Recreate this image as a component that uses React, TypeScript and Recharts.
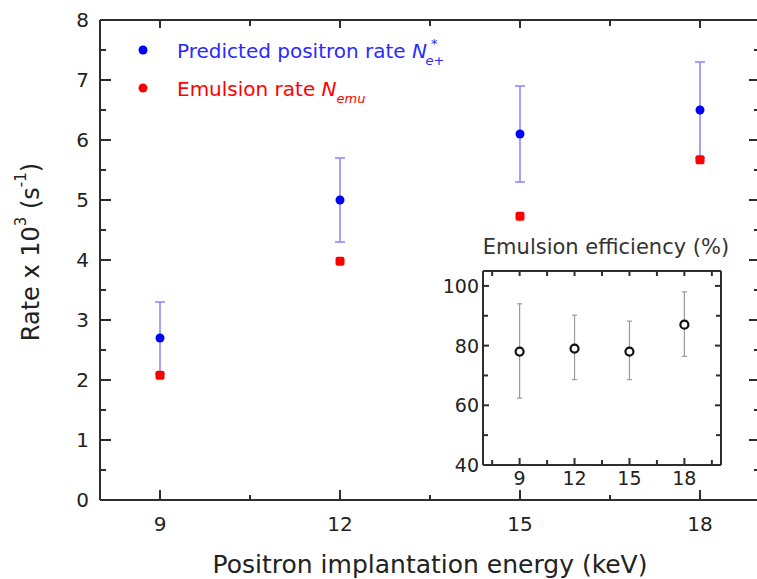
import React from "react";
import { ScatterChart, Scatter, XAxis, YAxis, ErrorBar } from "recharts";

// main panel
const energies = [9, 12, 15, 18];
const predictedRate = [2.7, 5.0, 6.1, 6.5];
const predictedErr = [0.6, 0.7, 0.8, 0.8];
const emulsionRate = [2.08, 3.98, 4.73, 5.67];

// inset panel
const efficiency = [78, 79, 78, 87];
const efficiencyLow = [62.4, 68.6, 68.6, 76.4];
const efficiencyHigh = [94, 90.2, 88.2, 98];

const mainXTicks = [9, 10.5, 12, 13.5, 15, 16.5, 18];
const mainXLabels = [9, 12, 15, 18];
const mainYTicks = [0, 0.5, 1, 1.5, 2, 2.5, 3, 3.5, 4, 4.5, 5, 5.5, 6, 6.5, 7, 7.5, 8];
const mainYLabels = [0, 1, 2, 3, 4, 5, 6, 7, 8];
const insetXTicks = [7.5, 9, 10.5, 12, 13.5, 15, 16.5, 18, 19.5];
const insetXLabels = [9, 12, 15, 18];
const insetYTicks = [40, 50, 60, 70, 80, 90, 100];
const insetYLabels = [40, 60, 80, 100];

const mainXDomain = [8, 19];
const mainYDomain = [0, 8];
const insetXDomain = [7, 20];
const insetYDomain = [40, 105];

const FONT = "DejaVu Sans, Arial, sans-serif";
const BLUE = "#0000ff";
const RED = "#ff0000";
const AXIS = "#2e2e2e";

const predictedData = energies.map((e, i) => ({
  energy: e,
  rate: predictedRate[i],
  err: predictedErr[i],
}));
const emulsionData = energies.map((e, i) => ({ energy: e, rate: emulsionRate[i] }));
const efficiencyData = energies.map((e, i) => ({
  energy: e,
  eff: efficiency[i],
  err: [efficiency[i] - efficiencyLow[i], efficiencyHigh[i] - efficiency[i]],
}));

// frame tick marks, placed through the chart scales as tiny series
const mainBottomMarks = mainXTicks.map((v) => ({ energy: v, rate: mainYDomain[0], major: mainXLabels.includes(v) }));
const mainTopMarks = mainXTicks.map((v) => ({ energy: v, rate: mainYDomain[1], major: mainXLabels.includes(v) }));
const mainLeftMarks = mainYTicks.map((v) => ({ energy: mainXDomain[0], rate: v, major: mainYLabels.includes(v) }));
const mainRightMarks = mainYTicks.map((v) => ({ energy: mainXDomain[1], rate: v, major: mainYLabels.includes(v) }));
const insetBottomMarks = insetXTicks.map((v) => ({ energy: v, eff: insetYDomain[0], major: insetXLabels.includes(v) }));
const insetTopMarks = insetXTicks.map((v) => ({ energy: v, eff: insetYDomain[1], major: insetXLabels.includes(v) }));
const insetLeftMarks = insetYTicks.map((v) => ({ energy: insetXDomain[0], eff: v, major: insetYLabels.includes(v) }));
const insetRightMarks = insetYTicks.map((v) => ({ energy: insetXDomain[1], eff: v, major: insetYLabels.includes(v) }));

const tickMark = (dx: number, dy: number, major: number, minor: number) => (props: any) => {
  const isMajor = props.payload ? props.payload.major : props.major;
  const len = isMajor ? major : minor;
  return (
    <line
      x1={props.cx}
      y1={props.cy}
      x2={props.cx + dx * len}
      y2={props.cy + dy * len}
      stroke={AXIS}
      strokeWidth={2}
    />
  );
};

const mainBottomShape = tickMark(0, -1, 10, 5);
const mainTopShape = tickMark(0, 1, 8, 6);
const mainLeftShape = tickMark(1, 0, 11, 6);
const mainRightShape = tickMark(-1, 0, 11, 6);
const insetBottomShape = tickMark(0, -1, 7, 5);
const insetTopShape = tickMark(0, 1, 5, 5);
const insetLeftShape = tickMark(1, 0, 6, 5);
const insetRightShape = tickMark(-1, 0, 6, 5);

// tick labels only (x/y sit on the axis line since tickSize and tickMargin are 0)
const bottomLabel = (labels: number[], fontSize: number, gap: number) => (props: any) => {
  const v = props.payload.value;
  if (!labels.includes(v)) return <g />;
  return (
    <text x={props.x} y={props.y + gap} textAnchor="middle" fontSize={fontSize} fontFamily={FONT} fill="#222">
      {v}
    </text>
  );
};
const leftLabel = (labels: number[], fontSize: number, gap: number) => (props: any) => {
  const v = props.payload.value;
  if (!labels.includes(v)) return <g />;
  return (
    <text x={props.x - gap} y={props.y} textAnchor="end" dominantBaseline="central" fontSize={fontSize} fontFamily={FONT} fill="#222">
      {v}
    </text>
  );
};

const mainBottomLabel = bottomLabel(mainXLabels, 20, 31);
const mainLeftLabel = leftLabel(mainYLabels, 20, 11);
const insetBottomLabel = bottomLabel(insetXLabels, 19, 20);
const insetLeftLabel = leftLabel(insetYLabels, 19, 4);

const renderYLabel = (props: any) => {
  const { viewBox } = props;
  const cx = 31;
  const cy = viewBox.y + viewBox.height / 2 - 8;
  return (
    <text
      x={cx}
      y={cy}
      transform={`rotate(-90 ${cx} ${cy})`}
      textAnchor="middle"
      dominantBaseline="central"
      fontSize={24}
      fontFamily={FONT}
      fill="#222"
    >
      Rate x 10
      <tspan fontSize={15} dy={-10}>3</tspan>
      <tspan dy={10}> (s</tspan>
      <tspan fontSize={15} dy={-10}>-1</tspan>
      <tspan dy={10}>)</tspan>
    </text>
  );
};

const renderXLabel = (props: any) => {
  const { viewBox } = props;
  return (
    <text x={viewBox.x + viewBox.width / 2} y={viewBox.y + 73} textAnchor="middle" fontSize={25} fontFamily={FONT} fill="#222">
      Positron implantation energy (keV)
    </text>
  );
};

const renderInsetTitle = (props: any) => {
  const { viewBox } = props;
  return (
    <text x={viewBox.x + viewBox.width / 2 + 4} y={viewBox.y - 16} textAnchor="middle" fontSize={21} fontFamily={FONT} fill="#333">
      Emulsion efficiency (%)
    </text>
  );
};

const blueDot = (props: any) => <circle cx={props.cx} cy={props.cy} r={4.5} fill={BLUE} />;
const redSquare = (props: any) => (
  <rect x={props.cx - 4.5} y={props.cy - 4.5} width={9} height={9} rx={2} fill={RED} />
);
const openCircle = (props: any) => (
  <circle cx={props.cx} cy={props.cy} r={4} fill="#fff" stroke="#111" strokeWidth={2.2} />
);

const axisLine = { stroke: AXIS, strokeWidth: 2 };

export default function App() {
  return (
    <div style={{ position: "absolute", left: 0, top: 0, width: 757, height: 579, overflow: "hidden", background: "#fff" }}>
      <ScatterChart width={762} height={579} margin={{ top: 0, right: 0, bottom: 0, left: 0 }}>
        <XAxis
          type="number"
          dataKey="energy"
          domain={mainXDomain}
          ticks={mainXTicks}
          interval={0}
          height={79}
          tickSize={0}
          tickMargin={0}
          tickLine={false}
          axisLine={axisLine}
          tick={mainBottomLabel}
          label={renderXLabel}
        />
        <XAxis
          xAxisId="top"
          orientation="top"
          type="number"
          dataKey="energy"
          domain={mainXDomain}
          height={20}
          tick={false}
          tickLine={false}
          axisLine={axisLine}
        />
        <YAxis
          type="number"
          dataKey="rate"
          domain={mainYDomain}
          ticks={mainYTicks}
          interval={0}
          width={100}
          tickSize={0}
          tickMargin={0}
          tickLine={false}
          axisLine={axisLine}
          tick={mainLeftLabel}
          label={renderYLabel}
        />
        <YAxis
          yAxisId="right"
          orientation="right"
          type="number"
          dataKey="rate"
          domain={mainYDomain}
          width={2}
          tick={false}
          tickLine={false}
          axisLine={axisLine}
        />
        <Scatter data={mainBottomMarks} shape={mainBottomShape} isAnimationActive={false} />
        <Scatter data={mainTopMarks} shape={mainTopShape} isAnimationActive={false} />
        <Scatter data={mainLeftMarks} shape={mainLeftShape} isAnimationActive={false} />
        <Scatter data={mainRightMarks} shape={mainRightShape} isAnimationActive={false} />
        <Scatter name="Predicted positron rate" data={predictedData} fill={BLUE} shape={blueDot} isAnimationActive={false}>
          <ErrorBar dataKey="err" direction="y" width={5} stroke="#8484ff" strokeWidth={1.5} isAnimationActive={false} />
        </Scatter>
        <Scatter name="Emulsion rate" data={emulsionData} fill={RED} shape={redSquare} isAnimationActive={false} />
      </ScatterChart>

      <svg width={480} height={110} style={{ position: "absolute", left: 0, top: 0 }}>
        <circle cx={143} cy={50} r={4.5} fill={BLUE} />
        <text x={177} y={58} fontSize={20} fontFamily={FONT} fill="#2a2aff">
          Predicted positron rate <tspan fontStyle="italic">N</tspan>
          <tspan fontSize={13} dx={4} dy={-10}>*</tspan>
          <tspan fontSize={13} fontStyle="italic" dx={-12} dy={17}>e+</tspan>
        </text>
        <circle cx={143} cy={88} r={4.5} fill={RED} />
        <text x={177} y={96} fontSize={20} fontFamily={FONT} fill={RED}>
          Emulsion rate <tspan fontStyle="italic">N</tspan>
          <tspan fontSize={13} fontStyle="italic" dy={7}>emu</tspan>
        </text>
      </svg>

      <div style={{ position: "absolute", left: 432, top: 230 }}>
        <ScatterChart width={320} height={265} margin={{ top: 40, right: 30, bottom: 0, left: 0 }}>
          <XAxis
            type="number"
            dataKey="energy"
            domain={insetXDomain}
            ticks={insetXTicks}
            interval={0}
            height={30}
            tickSize={0}
            tickMargin={0}
            tickLine={false}
            axisLine={axisLine}
            tick={insetBottomLabel}
          />
          <XAxis
            xAxisId="top"
            orientation="top"
            type="number"
            dataKey="energy"
            domain={insetXDomain}
            height={1}
            tick={false}
            tickLine={false}
            axisLine={axisLine}
            label={renderInsetTitle}
          />
          <YAxis
            type="number"
            dataKey="eff"
            domain={insetYDomain}
            ticks={insetYTicks}
            interval={0}
            width={51}
            tickSize={0}
            tickMargin={0}
            tickLine={false}
            axisLine={axisLine}
            tick={insetLeftLabel}
          />
          <YAxis
            yAxisId="right"
            orientation="right"
            type="number"
            dataKey="eff"
            domain={insetYDomain}
            width={1}
            tick={false}
            tickLine={false}
            axisLine={axisLine}
          />
          <Scatter data={insetBottomMarks} shape={insetBottomShape} isAnimationActive={false} />
          <Scatter data={insetTopMarks} shape={insetTopShape} isAnimationActive={false} />
          <Scatter data={insetLeftMarks} shape={insetLeftShape} isAnimationActive={false} />
          <Scatter data={insetRightMarks} shape={insetRightShape} isAnimationActive={false} />
          <Scatter name="Emulsion efficiency" data={efficiencyData} shape={openCircle} isAnimationActive={false}>
            <ErrorBar dataKey="err" direction="y" width={2.5} stroke="#999" strokeWidth={1.2} isAnimationActive={false} />
          </Scatter>
        </ScatterChart>
      </div>
    </div>
  );
}
